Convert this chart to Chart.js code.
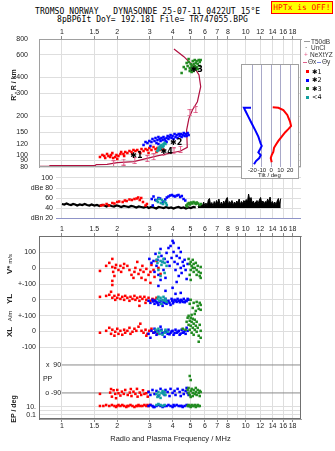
<!DOCTYPE html>
<html>
<head>
<meta charset="utf-8">
<script src="https://cdn.jsdelivr.net/npm/chart.js@4.4.1/dist/chart.umd.min.js"></script>
<title>Dynasonde ionogram</title>
<style>
body{margin:0;background:#fff;}
#page{position:relative;width:335px;height:451px;overflow:hidden;font-family:"Liberation Sans",Arial,sans-serif;color:#222;}
canvas{position:absolute;}
.txt{position:absolute;white-space:pre;line-height:1;}
.mono{font-family:"DejaVu Sans Mono",monospace;font-size:8px;color:#000;letter-spacing:0.08px;}
.vt{position:absolute;white-space:pre;transform:translate(-50%,-50%) rotate(-90deg);font-weight:bold;font-size:7px;line-height:1;}
.lg{position:absolute;font-size:6.5px;line-height:1;white-space:pre;color:#333;}
.sq{position:absolute;width:3px;height:3px;}
</style>
</head>
<body>
<div id="page">
  <div class="txt mono" style="left:35px;top:8px;">TROMSO NORWAY   DYNASONDE 25-07-11 0422UT 15°E</div>
  <div class="txt mono" style="left:57px;top:16px;">8pBP6It DoY= 192.181 File= TR747055.BPG</div>
  <div class="txt mono" style="left:271px;top:1px;width:60px;height:11px;background:#ffff00;border:1px solid #ff0000;color:#ff0000;font-size:7.8px;line-height:11px;text-align:center;">HPTx is OFF!</div>

  <canvas id="topChart" width="335" height="170" style="left:0;top:0;"></canvas>
  <canvas id="dbChart" width="335" height="56" style="left:0;top:168px;"></canvas>
  <canvas id="lowChart" width="335" height="231" style="left:0;top:220px;"></canvas>

  <div style="position:absolute;left:241px;top:64px;width:56px;height:113px;border:1px solid #a0a0a0;background:#fff;">
    <canvas id="tiltChart" width="56" height="112" style="left:0;top:0;"></canvas>
  </div>
  <div class="txt" style="left:258px;top:172px;font-size:6px;">Tilt / deg</div>

  <!-- legend on the right -->
  <div class="lg" style="left:304px;top:41px;width:6px;height:1px;background:#999;"></div>
  <div class="lg" style="left:311px;top:39px;">T50dB</div>
  <div class="lg" style="left:305px;top:45px;">·</div>
  <div class="lg" style="left:311px;top:45px;">UnCl</div>
  <div class="lg" style="left:304px;top:51.5px;color:#e0608a;">+</div>
  <div class="lg" style="left:310px;top:51.5px;">NeXtYZ</div>
  <div class="lg" style="left:303px;top:62px;width:4px;height:1px;background:#e0608a;"></div>
  <div class="lg" style="left:308px;top:59px;">Θx</div>
  <div class="lg" style="left:317px;top:62px;width:4px;height:1px;background:#7080e0;"></div>
  <div class="lg" style="left:322px;top:59px;">Θy</div>
  <div class="sq" style="left:306px;top:70px;background:#ff0000;"></div>
  <div class="lg" style="left:312px;top:68.5px;font-family:'DejaVu Sans';color:#000;">✱1</div>
  <div class="sq" style="left:306px;top:78.5px;background:#0000ff;"></div>
  <div class="lg" style="left:312px;top:77px;font-family:'DejaVu Sans';color:#000;">✱2</div>
  <div class="sq" style="left:306px;top:87px;background:#228b22;"></div>
  <div class="lg" style="left:312px;top:85.5px;font-family:'DejaVu Sans';color:#000;">✱3</div>
  <div class="sq" style="left:306px;top:95.5px;background:#10a0a0;"></div>
  <div class="lg" style="left:312px;top:94px;font-family:'DejaVu Sans';color:#000;">&lt;4</div>

  <!-- axis titles -->
  <div class="vt" style="left:13px;top:85px;">R', R / km</div>
  <div class="vt" style="left:10px;top:264px;"><span style="font-size:8px">V*</span> <span style="font-size:6px;font-weight:normal">m/s</span></div>
  <div class="vt" style="left:10px;top:299px;font-size:8px;">YL</div>
  <div class="vt" style="left:10px;top:316px;font-size:6px;font-weight:normal;">A/m</div>
  <div class="vt" style="left:10px;top:332px;font-size:8px;">XL</div>
  <div class="vt" style="left:13px;top:409px;">EP / deg</div>
  <div class="txt" style="left:0;width:341px;top:435px;text-align:center;font-size:7.5px;">Radio and Plasma Frequency / MHz</div>
</div>

<script>
// ---- frequency axis ticks
var xTicksTop = [1, 1.5, 2, 3, 4, 5, 6, 7, 8, 10, 12, 14, 16, 18];
var xTicksMid = [1, 1.5, 2, 3, 4, 5, 6, 7, 8, 9, 10, 12, 14, 16, 18];
var rTicks = [80, 90, 100, 120, 150, 200, 300, 400, 600, 800];
var dbTicks = [20, 40, 60, 80, 100];
var dbLabels = ['dBn 20', '40', '60', 'dBe 80', '100'];
var tiltTicks = [-20, -10, 0, 10, 20];

// ---- top panel: real height profile and NeXtYZ points
var rhFreq = [0.75, 0.86, 0.86, 1.52, 1.535, 1.76, 2.0, 2.46, 3.30, 4.42, 4.81, 4.77, 4.91, 5.13, 5.46, 5.69, 5.57, 5.23, 4.61, 4.07];
var rhHeight = [81, 81, 82.2, 82.2, 83.4, 84, 86.4, 88, 97.8, 106.7, 114, 155.6, 192, 223, 259, 339, 419, 486, 582, 668];
var nxFreq = [1.91, 2.17, 2.49, 2.91, 3.16, 3.57, 4.07, 4.42, 4.97, 5.35];
var nxHeight = [84.9, 87.5, 89.9, 93.2, 96.3, 103, 106.7, 110, 213, 225];

// ---- top panel: virtual heights of the echo clusters
var topRedF = [1.61, 1.66, 1.72, 1.76, 1.79, 1.83, 1.85, 1.90, 1.95, 1.98, 2.03, 2.08, 2.10, 2.16, 2.21, 2.27, 2.33, 2.39, 2.45, 2.51, 2.57, 2.64, 2.71, 2.78, 2.85, 2.92, 2.99, 3.07, 3.15, 3.23, 3.31, 3.40, 3.48, 3.57, 3.27, 2.96, 2.67, 2.42, 2.18, 2.00, 1.70, 1.88];
var topRedR = [95.8, 99.3, 94.1, 101.1, 97.5, 95.8, 99.3, 94.1, 95.8, 99.3, 97.5, 101.1, 104.8, 101.1, 104.8, 102.9, 106.7, 104.8, 108.6, 106.7, 108.6, 104.8, 110.5, 106.7, 110.5, 108.6, 112.6, 108.6, 114.6, 110.5, 112.6, 108.6, 112.6, 108.6, 104.8, 102.9, 102.9, 101.1, 97.5, 92.4, 97.5, 102.9];
var topBlueF = [2.78, 2.85, 2.92, 2.99, 3.07, 3.11, 3.19, 3.23, 3.27, 3.31, 3.35, 3.40, 3.44, 3.48, 3.53, 3.57, 3.62, 3.66, 3.71, 3.76, 3.80, 3.85, 3.90, 3.95, 4.00, 4.05, 4.10, 4.15, 4.21, 4.26, 4.32, 4.37, 4.43, 4.48, 4.54, 4.60, 4.65, 4.71, 4.77, 4.83, 4.89, 3.03, 3.35, 3.71];
var topBlueR = [118.9, 125.4, 123.2, 127.7, 125.4, 132.4, 127.7, 134.8, 123.2, 130.0, 137.2, 132.4, 127.7, 134.8, 130.0, 137.2, 132.4, 127.7, 134.8, 139.7, 132.4, 137.2, 142.2, 134.8, 139.7, 132.4, 144.8, 137.2, 142.2, 134.8, 144.8, 139.7, 144.8, 137.2, 142.2, 147.4, 139.7, 144.8, 139.7, 147.4, 142.2, 116.7, 121.0, 125.4];
var topGreenF = [4.48, 4.60, 4.71, 4.77, 4.83, 4.89, 4.89, 4.96, 5.02, 5.02, 5.08, 5.15, 5.15, 5.21, 5.21, 5.28, 5.28, 5.35, 5.41, 5.41, 5.48, 5.55, 5.62, 5.62, 5.69, 5.08, 4.96, 5.35, 5.48, 5.21];
var topGreenR = [434, 483, 466, 519.5, 492, 558, 529, 475, 510, 458, 492, 538, 475, 510, 450, 548, 492, 519.5, 483, 538, 510, 548, 529, 492, 548, 442, 450, 466, 466, 483];
var topTealF = [3.31, 3.35, 3.35, 3.40, 3.44, 3.44, 3.48, 3.53, 3.57, 3.62, 3.66, 3.57];
var topTealR = [106.7, 112.6, 108.6, 114.6, 110.5, 116.7, 118.9, 114.6, 121.0, 123.2, 121.0, 116.7];
var tagF = [2.54, 4.18, 5.41, 3.71];
var tagR = [97.5, 122.5, 462, 105];
var tagText = ['✱1', '✱2', '✱3', '✱4'];

// ---- tilt inset (deg vs real height km)
var thetaXDeg = [1.6, 7.6, 12.9, 17.1, 20, 21.1, 18.2, 14.7, 11.2, 7.6, 5.1, 3.0, 2.2, 0.5, -0.5, 0.5];
var thetaXH = [234, 232, 223, 204, 181, 167, 158, 149, 138, 128, 120, 113, 105, 99, 94, 87];
var thetaYDeg = [-21.5, -29, -27.9, -24.4, -20.7, -17.2, -13.7, -11.2, -10.1, -11.9, -13.7, -11.2, -12.7, -16.2, -18.3];
var thetaYH = [232, 232, 223, 198, 175, 156, 138, 122, 117, 110, 104, 99, 94, 89, 84];

// ---- amplitude panel (dB)
var dbNoiseF = [1.00, 1.03, 1.06, 1.09, 1.12, 1.15, 1.18, 1.21, 1.25, 1.29, 1.33, 1.37, 1.41, 1.45, 1.50, 1.55, 1.60, 1.65, 1.70, 1.75, 1.80, 1.86, 1.92, 1.98, 2.04, 2.10, 2.17, 2.24, 2.31, 2.38, 2.46, 2.54, 2.62, 2.70, 2.79, 2.88, 2.97, 3.06, 3.16, 3.26, 3.36, 3.47, 3.58, 3.69, 3.81, 3.93, 4.05, 4.18, 4.31, 4.45, 4.59, 4.73, 4.88, 5.03, 5.19, 5.35];
var dbNoiseV = [48, 47, 49, 47, 46, 48, 47, 45, 47, 46, 48, 46, 45, 47, 45, 46, 44, 46, 45, 43, 46, 44, 43, 45, 44, 42, 44, 43, 42, 44, 43, 41, 43, 42, 41, 43, 40, 42, 41, 39, 42, 41, 40, 42, 40, 41, 39, 41, 42, 40, 41, 39, 41, 40, 42, 41];
var dbSpikeF = [5.50, 5.58, 5.66, 5.74, 5.82, 5.90, 5.99, 6.08, 6.17, 6.26, 6.35, 6.44, 6.54, 6.64, 6.74, 6.84, 6.94, 7.04, 7.15, 7.26, 7.37, 7.48, 7.59, 7.70, 7.82, 7.94, 8.06, 8.18, 8.30, 8.42, 8.55, 8.68, 8.81, 8.94, 9.07, 9.21, 9.35, 9.49, 9.63, 9.77, 9.92, 10.07, 10.22, 10.37, 10.53, 10.69, 10.85, 11.01, 11.18, 11.35, 11.52, 11.69, 11.87, 12.05, 12.23, 12.41, 12.60, 12.79, 12.98, 13.17, 13.37, 13.57, 13.77, 13.98, 14.19, 14.40, 14.62, 14.84, 15.06, 15.29, 15.52];
var dbSpikeV = [43, 47, 42, 49, 44, 52, 45, 50, 44, 56, 59, 46, 51, 44, 53, 47, 55, 49, 58, 45, 52, 46, 54, 48, 57, 61, 47, 53, 49, 55, 46, 52, 48, 54, 50, 58, 47, 53, 49, 55, 51, 57, 52, 68, 55, 61, 50, 54, 48, 52, 55, 49, 56, 61, 50, 54, 48, 53, 51, 58, 52, 62, 49, 53, 47, 52, 46, 54, 59, 48, 59];
var dbRedF = [1.63, 1.68, 1.75, 1.80, 1.88, 1.93, 2.00, 2.05, 2.14, 2.20, 2.25, 2.33, 2.40, 2.48, 2.55, 2.60, 2.65, 2.70, 2.76, 2.85, 2.90];
var dbRedV = [45, 46, 48, 45, 50, 49, 52, 53, 52, 55, 54, 57, 56, 58, 59, 61, 56, 60, 52, 45, 48];
var dbBlueF = [3.08, 3.15, 3.22, 3.28, 3.35, 3.42, 3.50, 3.57, 3.65, 3.72, 3.80, 3.88, 3.97, 4.05, 4.13, 4.22, 4.31, 4.40, 4.49, 4.59, 4.69, 3.12];
var dbBlueV = [58, 63, 56, 55, 60, 59, 50, 53, 57, 61, 63, 65, 66, 64, 63, 65, 66, 62, 64, 58, 55, 45];
var dbTealF = [3.28, 3.33, 3.38, 3.45, 3.50, 3.55, 3.62, 3.68, 3.72];
var dbTealV = [55, 52, 58, 50, 56, 48, 53, 50, 46];
var dbGreenF = [4.75, 4.83, 4.90, 4.97, 5.05, 5.12, 5.20, 5.28, 5.35, 5.42, 5.50, 5.60, 5.70, 4.80];
var dbGreenV = [45, 48, 50, 47, 51, 49, 52, 50, 48, 51, 49, 46, 48, 43];

// ---- V* (m/s)
var vRedF = [1.61, 1.74, 1.81, 1.88, 1.88, 1.90, 1.95, 1.93, 1.88, 1.88, 1.97, 2.03, 2.08, 2.10, 2.16, 2.18, 2.27, 2.33, 2.39, 2.45, 2.48, 2.51, 2.57, 2.61, 2.67, 2.71, 2.74, 2.78, 2.85, 2.88, 2.96, 3.03, 3.07, 3.15, 3.19, 3.27, 3.35, 3.44, 3.03];
var vRedV = [-17, 15, 34, 59, 8, -23, 2, -49, -80, -106, 21, -11, 15, -23, 2, 27, 15, -11, -42, -61, -23, 2, 40, -36, -11, -61, 15, -23, -74, -4, -42, -23, 21, -11, -55, 46, 2, -36, -93];
var vBlueF = [2.99, 3.07, 3.15, 3.23, 3.27, 3.31, 3.35, 3.35, 3.44, 3.48, 3.53, 3.57, 3.62, 3.66, 3.71, 3.76, 3.80, 3.85, 3.90, 3.95, 4.00, 4.05, 4.05, 4.10, 4.15, 4.21, 4.21, 4.26, 4.32, 4.32, 4.37, 4.43, 4.43, 4.48, 4.54, 4.60, 4.65, 4.71, 4.77, 4.83, 3.19, 3.44];
var vBlueV = [59, 34, 46, 91, 15, 53, -42, -112, 122, 78, 40, -11, 59, -61, 97, 40, 128, 15, 141, 65, 173, 160, 103, 40, -11, 78, -87, 27, 128, -49, 65, 103, 2, -30, 40, 15, 53, -11, -68, 27, -23, -74];
var vTealF = [3.27, 3.31, 3.35, 3.39, 3.44, 3.48, 3.53, 3.57, 3.62, 3.62, 3.44, 3.71, 3.35];
var vTealV = [53, 34, 72, 97, 46, 21, 40, 59, 34, -30, -49, 15, -11];
var vGreenF = [4.89, 4.96, 5.02, 5.02, 5.08, 5.15, 5.15, 5.21, 5.21, 5.28, 5.35, 5.41, 5.41, 5.48, 5.55, 5.62, 5.69, 5.69, 5.69, 5.02, 4.96];
var vGreenV = [59, 27, 40, -11, 15, 53, 2, -23, 27, 2, 34, -11, -42, 15, -23, -49, 8, -30, -61, -74, -42];

// ---- YL (A/m)
var ylRedF = [1.61, 1.74, 1.81, 1.85, 1.88, 1.93, 1.95, 2.00, 2.03, 2.08, 2.13, 2.18, 2.21, 2.27, 2.33, 2.36, 2.42, 2.48, 2.51, 2.57, 2.64, 2.64, 2.67, 2.74, 2.81, 2.88, 2.96, 3.03, 3.11, 3.19, 3.27, 2.85];
var ylRedV = [19, 25, 32, 51, 13, 25, 0, 13, 32, 6, 19, 0, 25, 13, -6, 19, 6, 25, 0, 13, -6, -38, 19, 6, 19, 0, 13, -6, 6, 0, 13, -19];
var ylBlueF = [2.96, 3.03, 3.11, 3.19, 3.27, 3.35, 3.44, 3.48, 3.57, 3.66, 3.66, 3.71, 3.80, 3.85, 3.95, 4.00, 4.05, 4.10, 4.15, 4.21, 4.26, 4.32, 4.43, 4.43, 4.54, 4.60, 4.71, 4.83, 4.89, 3.53, 3.90, 3.14, 3.40, 3.62, 3.75, 3.98, 4.02, 4.18, 4.38, 4.50, 4.66, 4.77, 3.22, 3.31];
var ylBlueV = [-6, -19, 0, -25, -13, -32, -6, -25, -13, 6, 57, -25, -6, -19, 6, 76, -13, 0, 38, -13, 6, -6, 44, 0, -13, 6, -6, 6, 0, -38, -32, -10, -15, -20, -10, -5, -22, -5, -15, -5, -15, -8, -5, -20];
var ylTealF = [3.31, 3.35, 3.39, 3.44, 3.48, 3.53, 3.57, 3.62, 3.66, 3.71];
var ylTealV = [6, 19, -6, 13, -25, 0, 19, -6, 6, -13];
var ylGreenF = [4.96, 5.02, 5.15, 5.21, 5.35, 5.41, 5.48, 5.55, 5.62, 5.69, 5.69, 5.28, 5.08];
var ylGreenV = [-25, 0, -51, -19, -70, -13, -38, -57, -19, -63, -32, -89, -95];

// ---- XL (A/m)
var xlRedF = [1.61, 1.74, 1.81, 1.85, 1.88, 1.93, 1.95, 2.00, 2.03, 2.08, 2.13, 2.18, 2.21, 2.27, 2.33, 2.36, 2.42, 2.48, 2.54, 2.61, 2.67, 2.71, 2.78, 2.85, 2.92, 2.99, 3.07, 3.15, 3.23, 3.31, 2.88];
var xlRedV = [-8, 4, 23, -15, 11, -27, -2, 17, -15, 4, -21, 11, -8, 4, 23, -15, -2, 17, 4, 30, 49, 4, -8, 11, -15, 4, 17, -8, 4, -15, -27];
var xlBlueF = [2.96, 3.03, 3.07, 3.15, 3.19, 3.27, 3.35, 3.39, 3.48, 3.57, 3.62, 3.66, 3.76, 3.80, 3.90, 4.00, 4.05, 4.15, 4.21, 4.32, 4.37, 4.48, 4.54, 4.65, 4.71, 4.77, 4.83, 3.44, 3.23, 3.52, 3.70, 3.85, 3.95, 4.10, 4.26, 4.42, 4.60];
var xlBlueV = [-15, -40, 4, -8, 17, -21, 4, -15, 11, -8, -34, 4, -15, 11, -8, 4, -21, 11, -8, 4, -21, 11, -8, 4, -15, 23, 4, 30, -5, -12, -3, -18, 0, -10, -2, -14, -6];
var xlTealF = [3.23, 3.31, 3.35, 3.39, 3.48, 3.53, 3.62, 3.66, 3.76];
var xlTealV = [11, -2, 17, -15, 4, -21, -8, 11, -2];
var xlGreenF = [4.77, 4.83, 4.89, 4.89, 4.96, 4.96, 5.02, 5.02, 5.08, 5.08, 5.15, 5.15, 5.21, 5.21, 5.28, 5.28, 5.35, 5.41, 5.41, 5.48, 5.55, 5.55, 5.62, 5.69, 5.69, 4.71, 4.54];
var xlGreenV = [61, 87, 42, 99, 68, 11, 87, 36, 61, -8, 80, 23, 49, -21, 74, 11, 36, 61, -2, 23, -27, -65, 42, -40, 4, 11, 17];

// ---- PP (deg)
var ppRedF = [1.61, 1.83, 1.85, 1.87, 1.91, 1.95, 1.97, 2.00, 2.03, 2.08, 2.12, 2.17, 2.21, 2.28, 2.34, 2.37, 2.39, 2.45, 2.51, 2.56, 2.58, 2.65, 2.70, 2.76, 2.81, 2.88, 2.93, 2.96];
var ppRedV = [-96, -88, -65, -114, -73, -96, -124, -71, -92, -107, -82, -96, -71, -103, -88, -65, -110, -82, -96, -64, -114, -88, -103, -73, -96, -92, -114, -82];
var ppBlueF = [2.96, 3.03, 3.11, 3.19, 3.27, 3.35, 3.44, 3.53, 3.62, 3.66, 3.76, 3.85, 3.90, 4.00, 4.10, 4.15, 4.26, 4.37, 4.43, 4.54, 4.60, 4.71, 4.77, 4.83, 4.89];
var ppBlueV = [-84, -103, -71, -97, -77, -110, -64, -90, -103, -71, -84, -110, -64, -90, -77, -103, -64, -84, -110, -71, -97, -77, -58, -90, -103];
var ppTealF = [3.27, 3.31, 3.35, 3.39, 3.44, 3.48, 3.53, 3.57, 3.62, 3.66];
var ppTealV = [-97, -116, -84, -103, -122, -90, -77, -97, -84, -103];
var ppGreenF = [4.83, 4.89, 4.89, 4.96, 5.02, 5.02, 5.08, 5.15, 5.15, 5.21, 5.28, 5.35, 5.35, 5.41, 5.48, 5.55, 5.62, 5.62, 5.69, 4.96, 5.02];
var ppGreenV = [-71, -90, -58, -103, -77, -116, -64, -90, -110, -71, -97, -58, -84, -103, -71, -90, -77, -110, -84, 19, -7];
var ppRefF = [1, 20];

// ---- EP (deg)
var epRedF = [1.61, 1.68, 1.74, 1.81, 1.87, 1.93, 1.97, 2.00, 2.03, 2.08, 2.13, 2.18, 2.24, 2.27, 2.30, 2.36, 2.42, 2.48, 2.54, 2.58, 2.61, 2.67, 2.74, 2.81, 2.88, 2.92, 2.96, 3.03];
var epRedV = [18, 18, 32, 18, 32, 18, 10, 18, 32, 18, 32, 18, 10, 18, 18, 32, 18, 10, 18, 18, 32, 18, 18, 32, 18, 32, 18, 32];
var epBlueF = [2.96, 3.03, 3.11, 3.15, 3.19, 3.27, 3.35, 3.44, 3.53, 3.57, 3.62, 3.71, 3.80, 3.90, 4.00, 4.05, 4.10, 4.21, 4.32, 4.43, 4.48, 4.54, 4.65, 4.77, 4.89];
var epBlueV = [18, 32, 18, 10, 10, 18, 32, 18, 10, 18, 18, 18, 32, 18, 10, 32, 18, 32, 18, 18, 18, 10, 18, 32, 18];
var epTealF = [3.27, 3.35, 3.44, 3.53, 3.62];
var epTealV = [32, 57, 32, 18, 32];
var epGreenF = [4.83, 4.89, 4.96, 5.02, 5.08, 5.15, 5.21, 5.28, 5.35, 5.41, 5.48, 5.55, 5.62];
var epGreenV = [18, 32, 18, 10, 32, 18, 18, 32, 10, 18, 32, 18, 18];

// ---- the lower panel stacks V*, YL, XL, PP and EP on one axis
function vU(v) { return v; }
function ylU(v) { return v - 200; }
function xlU(v) { return v - 400; }
function ppU(v) { return -700.5 + v * 0.9833; }
function epU(v) { return -878 + 25 * (Math.log10(v) - 1); }
var uTicks = [-928, -903, -878, -500, -400, -300, -200, -100, 0, 100];
var uLabels = ['0.1', '', '10.', '-100', '0', '+-100', '0', '+-100', '0', '100'];

var RED = '#ff0000', BLUE = '#0000ff', GREEN = '#228b22', TEAL = '#10a0a0';

Chart.defaults.font.family = '"Liberation Sans", Arial, sans-serif';
Chart.defaults.font.size = 7;
Chart.defaults.color = '#222';
Chart.defaults.animation = false;
Chart.defaults.responsive = false;
Chart.defaults.layout.autoPadding = false;
Chart.defaults.plugins.legend.display = false;
Chart.defaults.plugins.tooltip.enabled = false;

function pts(fs, vs, map) {
    return fs.map(function (f, i) { return {x: f, y: map ? map(vs[i]) : vs[i]}; });
}
function dot(data, color, r) {
    return {data: data, pointStyle: 'rect', pointRadius: r || 1.8, backgroundColor: color, borderWidth: 0};
}
function fixTicks(list) {
    return function (s) { s.ticks = list.map(function (v) { return {value: v}; }); };
}
// axis box of fixed size, and no extra room for overhanging labels
function fitH(h) {
    return function (s) { s.height = h; s.paddingLeft = 0; s.paddingRight = 0; s.paddingTop = 0; s.paddingBottom = 0; };
}
function fitW(w) {
    return function (s) { s.width = w; s.paddingLeft = 0; s.paddingRight = 0; s.paddingTop = 0; s.paddingBottom = 0; };
}
function logX(pos, ticks, size, onArea, min) {
    return {
        type: 'logarithmic', position: pos, min: min || 0.75, max: 20,
        afterBuildTicks: fixTicks(ticks),
        afterFit: fitH(size),
        ticks: {autoSkip: false, maxRotation: 0, minRotation: 0, padding: 0, callback: function (v) { return String(v); }},
        grid: {color: '#dedede', drawOnChartArea: onArea, tickLength: 3, tickColor: '#888'},
        border: {color: '#a0a0a0'}
    };
}

// box round the plot area
var framePlugin = {
    id: 'frame',
    afterDraw: function (chart, args, opts) {
        if (!opts.color) return;
        var a = chart.chartArea, ctx = chart.ctx;
        ctx.save();
        ctx.strokeStyle = opts.color;
        ctx.lineWidth = 1;
        ctx.strokeRect(a.left + 0.5, a.top + 0.5, a.right - a.left - 1, a.bottom - a.top - 1);
        ctx.restore();
    }
};
// text placed at data positions
var tagPlugin = {
    id: 'tags',
    afterDatasetsDraw: function (chart, args, opts) {
        if (!opts.items) return;
        var ctx = chart.ctx;
        ctx.save();
        ctx.fillStyle = opts.color || '#000';
        ctx.font = opts.font;
        ctx.textBaseline = 'middle';
        opts.items.forEach(function (it) {
            ctx.textAlign = it.align || 'center';
            ctx.fillText(it.t, chart.scales.x.getPixelForValue(it.x), chart.scales.y.getPixelForValue(it.y));
        });
        ctx.restore();
    }
};

// pink "I" mark for NeXtYZ points
var nxMark = document.createElement('canvas');
nxMark.width = 5; nxMark.height = 7;
(function () {
    var g = nxMark.getContext('2d');
    g.strokeStyle = '#e0608a';
    g.lineWidth = 1;
    g.beginPath();
    g.moveTo(2.5, 0.5); g.lineTo(2.5, 6.5);
    g.moveTo(0.5, 0.5); g.lineTo(4.5, 0.5);
    g.moveTo(0.5, 6.5); g.lineTo(4.5, 6.5);
    g.stroke();
})();

// ---------- top panel: heights
new Chart(document.getElementById('topChart'), {
    type: 'scatter',
    data: {datasets: [
        dot(pts(topTealF, topTealR), TEAL),
        dot(pts(topGreenF, topGreenR), GREEN),
        dot(pts(topBlueF, topBlueR), BLUE),
        dot(pts(topRedF, topRedR), RED),
        {data: pts(nxFreq, nxHeight), pointStyle: nxMark, pointRadius: 3},
        {type: 'line', data: pts(rhFreq, rhHeight), borderColor: '#b01040', borderWidth: 1.2, pointRadius: 0}
    ]},
    options: {
        layout: {padding: {left: 0, right: 34, top: 0, bottom: 3}},
        scales: {
            x: logX('top', xTicksTop, 39, true),
            y: {
                type: 'logarithmic', min: 80, max: 800,
                afterBuildTicks: fixTicks(rTicks),
                afterFit: fitW(39),
                ticks: {autoSkip: false, padding: 11, callback: function (v) { return String(v); }},
                grid: {color: '#dedede', drawTicks: false},
                border: {color: '#a0a0a0'}
            }
        },
        plugins: {
            frame: {color: '#a0a0a0'},
            tags: {
                font: 'bold 8px "DejaVu Sans"', color: '#000',
                items: tagF.map(function (f, i) { return {x: f, y: tagR[i], t: tagText[i]}; })
            }
        }
    },
    plugins: [framePlugin, tagPlugin]
});

// ---------- tilt inset
new Chart(document.getElementById('tiltChart'), {
    type: 'scatter',
    data: {datasets: [
        {type: 'line', data: pts(thetaXDeg, thetaXH), borderColor: RED, borderWidth: 2, pointRadius: 0},
        {type: 'line', data: pts(thetaYDeg, thetaYH), borderColor: BLUE, borderWidth: 2, pointRadius: 0}
    ]},
    options: {
        layout: {padding: 0},
        scales: {
            x: {
                type: 'linear', position: 'bottom', min: -31.1, max: 28.5,
                afterBuildTicks: fixTicks(tiltTicks),
                afterFit: fitH(10),
                ticks: {autoSkip: false, maxRotation: 0, padding: 0, font: {size: 6}},
                grid: {color: '#a8a8c8', drawTicks: false},
                border: {display: false}
            },
            y: {type: 'logarithmic', min: 80, max: 501, display: false}
        }
    }
});

// ---------- amplitude panel
new Chart(document.getElementById('dbChart'), {
    type: 'scatter',
    data: {datasets: [
        dot(pts(dbGreenF, dbGreenV), GREEN),
        dot(pts(dbTealF, dbTealV), TEAL),
        dot(pts(dbBlueF, dbBlueV), BLUE),
        dot(pts(dbRedF, dbRedV), RED),
        {type: 'line', data: pts(dbNoiseF, dbNoiseV), borderColor: '#000', borderWidth: 2.2, pointRadius: 0},
        {type: 'line', data: pts(dbSpikeF, dbSpikeV), borderColor: '#000', borderWidth: 1, pointRadius: 0,
            fill: {value: 40}, backgroundColor: '#000'}
    ]},
    options: {
        layout: {padding: {left: 0, right: 34, top: 0, bottom: 6}},
        scales: {
            x: {
                type: 'logarithmic', position: 'bottom', min: 0.928, max: 20,
                afterBuildTicks: fixTicks(xTicksTop),
                afterFit: fitH(0),
                ticks: {display: false},
                grid: {color: '#dedede', drawTicks: false},
                border: {display: false}
            },
            y: {
                type: 'linear', min: 20, max: 120,
                afterBuildTicks: fixTicks(dbTicks),
                afterFit: fitW(56),
                ticks: {autoSkip: false, padding: 3, callback: function (v) { return dbLabels[dbTicks.indexOf(v)]; }},
                grid: {drawTicks: false, color: function (c) { return c.tick && c.tick.value === 20 ? '#8f94c8' : '#dedede'; }},
                border: {display: false}
            }
        }
    }
});

// ---------- lower panel: V*, YL, XL, PP, EP
new Chart(document.getElementById('lowChart'), {
    type: 'scatter',
    data: {datasets: [
        dot(pts(vTealF, vTealV, vU), TEAL),
        dot(pts(vGreenF, vGreenV, vU), GREEN),
        dot(pts(vBlueF, vBlueV, vU), BLUE),
        dot(pts(vRedF, vRedV, vU), RED),
        dot(pts(ylTealF, ylTealV, ylU), TEAL),
        dot(pts(ylGreenF, ylGreenV, ylU), GREEN),
        dot(pts(ylBlueF, ylBlueV, ylU), BLUE),
        dot(pts(ylRedF, ylRedV, ylU), RED),
        dot(pts(xlTealF, xlTealV, xlU), TEAL),
        dot(pts(xlGreenF, xlGreenV, xlU), GREEN),
        dot(pts(xlBlueF, xlBlueV, xlU), BLUE),
        dot(pts(xlRedF, xlRedV, xlU), RED),
        dot(pts(ppTealF, ppTealV, ppU), TEAL),
        dot(pts(ppGreenF, ppGreenV, ppU), GREEN),
        dot(pts(ppBlueF, ppBlueV, ppU), BLUE),
        dot(pts(ppRedF, ppRedV, ppU), RED),
        dot(pts(epTealF, epTealV, epU), TEAL),
        dot(pts(epGreenF, epGreenV, epU), GREEN),
        dot(pts(epBlueF, epBlueV, epU), BLUE),
        dot(pts(epRedF, epRedV, epU), RED),
        {type: 'line', data: pts(ppRefF, [90, 90], ppU), borderColor: '#8a8a8a', borderWidth: 1, pointRadius: 0},
        {type: 'line', data: pts(ppRefF, [-90, -90], ppU), borderColor: '#8a8a8a', borderWidth: 1, pointRadius: 0}
    ]},
    options: {
        layout: {padding: {left: 0, right: 34, top: 0, bottom: 0}},
        scales: {
            x: logX('top', xTicksMid, 16, true),
            xb: logX('bottom', xTicksTop, 32, false),
            y: {
                type: 'linear', min: -954, max: 204,
                afterBuildTicks: fixTicks(uTicks),
                afterFit: fitW(39),
                ticks: {autoSkip: false, padding: 3, callback: function (v) { return uLabels[uTicks.indexOf(v)]; }},
                grid: {drawTicks: false, color: '#dedede'},
                border: {color: '#707070'}
            }
        },
        plugins: {
            frame: {color: '#707070'},
            tags: {
                font: '7px "Liberation Sans", Arial', color: '#222',
                items: [
                    {x: 0.99, y: ppU(90), t: 'x  90', align: 'right'},
                    {x: 0.99, y: ppU(-90), t: 'o -90', align: 'right'},
                    {x: 0.788, y: ppU(0), t: 'PP', align: 'left'}
                ]
            }
        }
    },
    plugins: [framePlugin, tagPlugin]
});
</script>
</body>
</html>
